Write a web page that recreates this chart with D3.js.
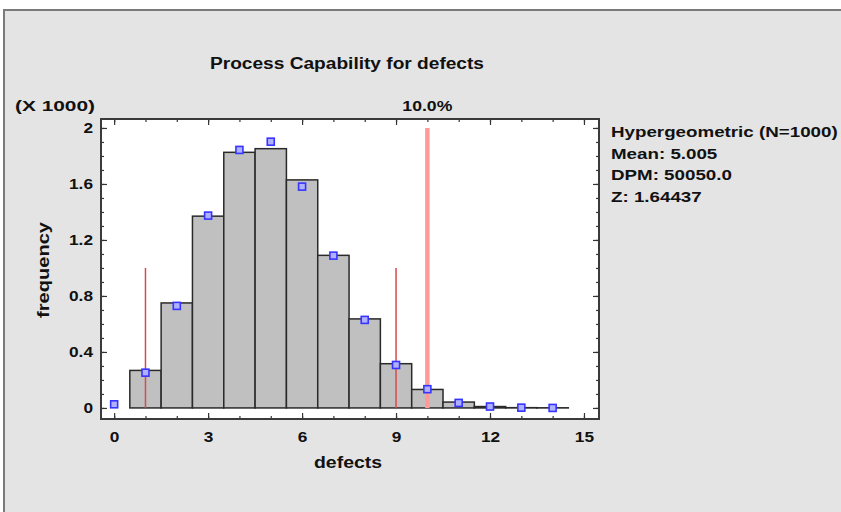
<!DOCTYPE html>
<html>
<head>
<meta charset="utf-8">
<script src="https://cdn.jsdelivr.net/npm/d3@7"></script>
<style>
  html, body { margin: 0; padding: 0; background: #ffffff; }
  svg { display: block; }
  text { font-family: "Liberation Sans", Arial, sans-serif; font-weight: bold; fill: #111; }
</style>
</head>
<body>
<svg id="chart" width="841" height="512"></svg>
<script>
// Observed counts per number of defects (histogram bars)
const barDefects = [1, 2, 3, 4, 5, 6, 7, 8, 9, 10, 11, 12, 13, 14];
const barCounts  = [268, 750, 1370, 1826, 1852, 1629, 1090, 636, 316, 132, 42, 10, 2, 1];

// Fitted hypergeometric frequencies (blue squares)
const fitDefects = [0, 1, 2, 3, 4, 5, 6, 7, 8, 9, 10, 11, 12, 13, 14];
const fitCounts  = [26, 252, 729, 1374, 1843, 1902, 1581, 1088, 629, 307, 134, 36, 10, 2, 0];

// Specification lines: lower/upper limits and the 10% point
const specLimits = [1, 9];
const specHeight = 1000;
const pctLine = 10;
const pctLabel = "10.0%";

const xTicks = [0, 3, 6, 9, 12, 15];
const yTicks = [0, 400, 800, 1200, 1600, 2000];

const titleText = "Process Capability for defects";
const statsLines = ["Hypergeometric (N=1000)", "Mean: 5.005", "DPM: 50050.0", "Z: 1.64437"];

const svg = d3.select("#chart");
const FONT = '"Liberation Sans", Arial, sans-serif';

// widen a text run by a factor, keeping its anchor
function widen(sel, k) {
  sel.each(function () {
    const w = this.getComputedTextLength();
    d3.select(this).attr("textLength", w * k).attr("lengthAdjust", "spacingAndGlyphs");
  });
}

// panel background with its frame
svg.append("rect").attr("x", 3).attr("y", 9).attr("width", 845).attr("height", 510)
  .attr("fill", "#e4e4e4");
svg.append("path").attr("d", "M4,512 V10 H841")
  .attr("fill", "none").attr("stroke", "#7a7a7a").attr("stroke-width", 2);

const pL = 101, pR = 599, pT = 119, pB = 419;

const x = d3.scaleLinear().domain([-0.42, 15.48]).range([pL, pR]);
const y = d3.scaleLinear().domain([-79, 2064]).range([pB, pT]);

svg.append("rect").attr("x", pL).attr("y", pT)
  .attr("width", pR - pL).attr("height", pB - pT)
  .attr("fill", "#ffffff");

const fmtY = d => String(+(d / 1000).toFixed(1));

// bars
svg.append("g").selectAll("rect")
  .data(barDefects.map((d, i) => ({ d, c: barCounts[i] })))
  .join("rect")
  .attr("x", d => x(d.d - 0.5))
  .attr("width", d => x(d.d + 0.5) - x(d.d - 0.5))
  .attr("y", d => y(d.c))
  .attr("height", d => y(0) - y(d.c))
  .attr("fill", "#c0c0c0")
  .attr("stroke", "#2a2a2a")
  .attr("stroke-width", 1.5);

// thin spec limit lines
svg.append("g").selectAll("line")
  .data(specLimits).join("line")
  .attr("x1", d => x(d)).attr("x2", d => x(d))
  .attr("y1", y(0)).attr("y2", y(specHeight))
  .attr("stroke", "#d84a4a").attr("stroke-width", 1.5);

// 10% line
svg.append("line")
  .attr("x1", x(pctLine)).attr("x2", x(pctLine))
  .attr("y1", y(0)).attr("y2", y(2000))
  .attr("stroke", "#ff9a9a").attr("stroke-width", 4.5);

// fitted points
svg.append("g").selectAll("rect")
  .data(fitDefects.map((d, i) => ({ d, c: fitCounts[i] })))
  .join("rect")
  .attr("x", d => x(d.d) - 3.5).attr("y", d => y(d.c) - 3.5)
  .attr("width", 7).attr("height", 7)
  .attr("fill", "#b0b0ff").attr("stroke", "#3535ff").attr("stroke-width", 1.6);

// axes: ticks point inward on all four sides
const xMinor = d3.range(0, 16, 1);
const yMinor = d3.range(0, 2001, 100);

function styleAxis(g) {
  g.select(".domain").remove();
  g.selectAll("line").attr("stroke", "#333").attr("stroke-width", 1.2);
  g.selectAll("text").style("font-size", "15px").style("font-family", FONT)
    .style("font-weight", "bold").attr("fill", "#111");
}

svg.append("g").attr("transform", `translate(0,${pB})`)
  .call(d3.axisBottom(x).tickValues(xMinor).tickFormat("").tickSize(-3)).call(styleAxis);
const xAxisG = svg.append("g").attr("transform", `translate(0,${pB})`)
  .call(d3.axisBottom(x).tickValues(xTicks).tickSize(-6).tickPadding(12)).call(styleAxis);
svg.append("g").attr("transform", `translate(0,${pT})`)
  .call(d3.axisTop(x).tickValues(xMinor).tickFormat("").tickSize(-3)).call(styleAxis);
svg.append("g").attr("transform", `translate(0,${pT})`)
  .call(d3.axisTop(x).tickValues(xTicks).tickFormat("").tickSize(-6)).call(styleAxis);

svg.append("g").attr("transform", `translate(${pL},0)`)
  .call(d3.axisLeft(y).tickValues(yMinor).tickFormat("").tickSize(-3)).call(styleAxis);
const yAxisG = svg.append("g").attr("transform", `translate(${pL},0)`)
  .call(d3.axisLeft(y).tickValues(yTicks).tickFormat(fmtY).tickSize(-6).tickPadding(8)).call(styleAxis);
svg.append("g").attr("transform", `translate(${pR},0)`)
  .call(d3.axisRight(y).tickValues(yMinor).tickFormat("").tickSize(-3)).call(styleAxis);
svg.append("g").attr("transform", `translate(${pR},0)`)
  .call(d3.axisRight(y).tickValues(yTicks).tickFormat("").tickSize(-6)).call(styleAxis);

widen(xAxisG.selectAll("text"), 1.15);
widen(yAxisG.selectAll("text"), 1.15);

// plot frame
svg.append("rect").attr("x", pL).attr("y", pT)
  .attr("width", pR - pL).attr("height", pB - pT)
  .attr("fill", "none").attr("stroke", "#3a3a3a").attr("stroke-width", 2);

// labels
function label(xp, yp, str, size, anchor, w) {
  return svg.append("text").attr("x", xp).attr("y", yp).attr("text-anchor", anchor)
    .style("font-size", size + "px").text(str)
    .attr("textLength", w).attr("lengthAdjust", "spacingAndGlyphs");
}
label(347, 69, titleText, 16, "middle", 274);
label(15, 111, "(X 1000)", 15, "start", 80);
label(x(pctLine), 111, pctLabel, 15, "middle", 50);
label(348, 468, "defects", 16, "middle", 68);
svg.append("text").attr("transform", "translate(49,270) rotate(-90)").attr("text-anchor", "middle")
  .style("font-size", "16px").text("frequency")
  .attr("textLength", 96).attr("lengthAdjust", "spacingAndGlyphs");

const stats = svg.append("g").selectAll("text").data(statsLines).join("text")
  .attr("x", 611).attr("y", (d, i) => 137 + i * 21.5)
  .style("font-size", "15px").text(d => d);
widen(stats, 1.25);
</script>
</body>
</html>
